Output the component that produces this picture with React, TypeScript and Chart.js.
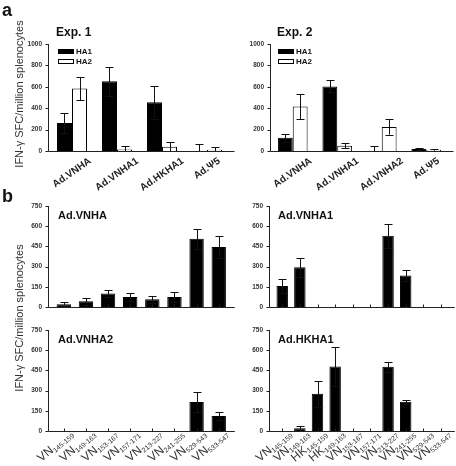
import React, { useEffect, useRef } from 'react';
import { Chart, registerables } from 'chart.js';

Chart.register(...registerables);

const W = 456;
const H = 466;
const FONT = 'Arial, "Liberation Sans", Helvetica, sans-serif';

// ---------- Panel a data ----------
const exp1Groups = ['Ad.VNHA', 'Ad.VNHA1', 'Ad.HKHA1', 'Ad.Ψ5'];
const exp2Groups = ['Ad.VNHA', 'Ad.VNHA1', 'Ad.VNHA2', 'Ad.Ψ5'];
const exp1HA1 = [262, 653, 456, 0];
const exp1HA1Err = [91, 135, 153, 62];
const exp1HA2 = [584, 15, 40, 12];
const exp1HA2Err = [110, 35, 41, 22];
const exp2HA1 = [125, 603, 0, 19];
const exp2HA1Err = [38, 56, 50, 12];
const exp2HA2 = [416, 50, 225, 12];
const exp2HA2Err = [118, 22, 72, 10];
const aTicks = [0, 200, 400, 600, 800, 1000];

// ---------- Panel b data ----------
const vnPeptides = ['VN145-159', 'VN149-163', 'VN153-167', 'VN157-171', 'VN213-227', 'VN241-255', 'VN529-543', 'VN533-547'];
const hkPeptides = ['VN145-159', 'VN149-163', 'HK145-159', 'HK149-163', 'VN153-167', 'VN157-171', 'VN213-227', 'VN241-255', 'VN529-543', 'VN533-547'];
const vnhaSFC = [20, 42, 101, 74, 57, 74, 507, 446];
const vnhaErr = [15, 27, 28, 27, 25, 37, 75, 81];
const vnha1SFC = [156, 295, 0, 0, 0, 0, 530, 233, 0, 0];
const vnha1Err = [49, 71, 0, 0, 0, 0, 89, 39, 0, 0];
const vnha2SFC = [0, 0, 0, 0, 0, 0, 216, 112];
const vnha2Err = [0, 0, 0, 0, 0, 0, 77, 32];
const hkha1SFC = [0, 20, 276, 479, 0, 0, 477, 218, 0, 0];
const hkha1Err = [0, 20, 96, 144, 0, 0, 39, 15, 0, 0];
const bTicks = [0, 150, 300, 450, 600, 750];

const yTitle = 'IFN-γ SFC/million splenocytes';

type Series = { label: string; data: number[]; err: number[]; color: string };
type PanelCfg = {
  key: string;
  categories: string[];
  series: Series[];
  ticks: number[];
  axisX: number;
  catLeft: number;
  catRight: number;
  yTop: number;
  yBottom: number;
  catPct: number;
  title: string;
  titleX: number;
  titleY: number;
  titleSize: number;
  legend?: { x: number; y: number };
  labels: 'rot' | 'sub' | 'none';
  xTicks: boolean;
  global?: boolean;
};

const panels: PanelCfg[] = [
  {
    key: 'a1', categories: exp1Groups,
    series: [
      { label: 'HA1', data: exp1HA1, err: exp1HA1Err, color: '#000000' },
      { label: 'HA2', data: exp1HA2, err: exp1HA2Err, color: '#ffffff' },
    ],
    ticks: aTicks, axisX: 48, catLeft: 49.5, catRight: 229.5, yTop: 44, yBottom: 151, catPct: 0.667,
    title: 'Exp. 1', titleX: 56, titleY: 36, titleSize: 12,
    legend: { x: 58, y: 49 }, labels: 'rot', xTicks: false, global: true,
  },
  {
    key: 'a2', categories: exp2Groups,
    series: [
      { label: 'HA1', data: exp2HA1, err: exp2HA1Err, color: '#000000' },
      { label: 'HA2', data: exp2HA2, err: exp2HA2Err, color: '#ffffff' },
    ],
    ticks: aTicks, axisX: 270, catLeft: 270.5, catRight: 448.5, yTop: 44, yBottom: 151, catPct: 0.667,
    title: 'Exp. 2', titleX: 277, titleY: 36, titleSize: 12,
    legend: { x: 278, y: 49 }, labels: 'rot', xTicks: false,
  },
  {
    key: 'b1', categories: vnPeptides,
    series: [{ label: 'Ad.VNHA', data: vnhaSFC, err: vnhaErr, color: '#000000' }],
    ticks: bTicks, axisX: 48, catLeft: 52.7, catRight: 229.8, yTop: 206, yBottom: 307, catPct: 0.65,
    title: 'Ad.VNHA', titleX: 58, titleY: 219, titleSize: 11,
    labels: 'none', xTicks: true,
  },
  {
    key: 'b2', categories: hkPeptides,
    series: [{ label: 'Ad.VNHA1', data: vnha1SFC, err: vnha1Err, color: '#000000' }],
    ticks: bTicks, axisX: 269, catLeft: 273.4, catRight: 449.8, yTop: 206, yBottom: 307, catPct: 0.65,
    title: 'Ad.VNHA1', titleX: 278, titleY: 219, titleSize: 11,
    labels: 'none', xTicks: true,
  },
  {
    key: 'b3', categories: vnPeptides,
    series: [{ label: 'Ad.VNHA2', data: vnha2SFC, err: vnha2Err, color: '#000000' }],
    ticks: bTicks, axisX: 48, catLeft: 52.7, catRight: 229.8, yTop: 330, yBottom: 431, catPct: 0.65,
    title: 'Ad.VNHA2', titleX: 58, titleY: 343, titleSize: 11,
    labels: 'sub', xTicks: true,
  },
  {
    key: 'b4', categories: hkPeptides,
    series: [{ label: 'Ad.HKHA1', data: hkha1SFC, err: hkha1Err, color: '#000000' }],
    ticks: bTicks, axisX: 269, catLeft: 273.4, catRight: 449.8, yTop: 330, yBottom: 431, catPct: 0.65,
    title: 'Ad.HKHA1', titleX: 278, titleY: 343, titleSize: 11,
    labels: 'sub', xTicks: true,
  },
];

function makeDecor(cfg: PanelCfg) {
  return {
    id: 'decor_' + cfg.key,
    afterDatasetsDraw(chart: any) {
      const ctx: CanvasRenderingContext2D = chart.ctx;
      const xs = chart.scales.x;
      const ys = chart.scales.y;
      const y0 = ys.getPixelForValue(0);
      const yMaxPx = ys.getPixelForValue(cfg.ticks[cfg.ticks.length - 1]);
      ctx.save();
      // error bars
      ctx.strokeStyle = '#111';
      ctx.lineWidth = 1;
      cfg.series.forEach((s, di) => {
        const meta = chart.getDatasetMeta(di);
        meta.data.forEach((bar: any, i: number) => {
          const v = s.data[i];
          const e = s.err[i];
          if (!e) return;
          const x = Math.round(bar.x) + 0.5;
          const top = Math.round(ys.getPixelForValue(v + e)) + 0.5;
          const lowV = v - e;
          const bot = ys.getPixelForValue(Math.max(0, lowV));
          ctx.beginPath();
          ctx.moveTo(x, top);
          ctx.lineTo(x, bot);
          ctx.moveTo(x - 4, top);
          ctx.lineTo(x + 4, top);
          if (lowV > 0) {
            const b = Math.round(bot) + 0.5;
            ctx.moveTo(x - 4, b);
            ctx.lineTo(x + 4, b);
          }
          ctx.stroke();
        });
      });
      // axes
      ctx.strokeStyle = '#222';
      ctx.beginPath();
      const ax = Math.round(cfg.axisX) + 0.5;
      const ay = Math.round(y0) + 0.5;
      ctx.moveTo(ax, Math.round(yMaxPx));
      ctx.lineTo(ax, ay);
      ctx.moveTo(ax, ay);
      ctx.lineTo(cfg.catRight + 5, ay);
      cfg.ticks.forEach((t) => {
        const ty = Math.round(ys.getPixelForValue(t)) + 0.5;
        ctx.moveTo(ax - 3, ty);
        ctx.lineTo(ax, ty);
      });
      if (cfg.xTicks) {
        cfg.categories.forEach((_, i) => {
          const tx = Math.round(xs.getPixelForValue(i)) + 0.5;
          ctx.moveTo(tx, ay - 3);
          ctx.lineTo(tx, ay);
        });
      }
      ctx.stroke();

      // y tick labels (from the y scale)
      ctx.fillStyle = '#333';
      ctx.font = `bold 6.5px ${FONT}`;
      ctx.textAlign = 'right';
      ctx.textBaseline = 'middle';
      cfg.ticks.forEach((t) => {
        ctx.fillText(String(t), cfg.axisX - 6, ys.getPixelForValue(t));
      });

      // category labels
      if (cfg.labels === 'rot') {
        const th = (35 * Math.PI) / 180;
        ctx.font = `bold 10px ${FONT}`;
        ctx.fillStyle = '#222';
        cfg.categories.forEach((c, i) => {
          const cx = xs.getPixelForValue(i);
          const L = ctx.measureText(c).width;
          ctx.save();
          ctx.translate(cx + (L / 2) * Math.cos(th), y0 + 9);
          ctx.rotate(-th);
          ctx.textAlign = 'right';
          ctx.textBaseline = 'middle';
          ctx.fillText(c, 0, 0);
          ctx.restore();
        });
      } else if (cfg.labels === 'sub') {
        const th = (40 * Math.PI) / 180;
        ctx.fillStyle = '#333';
        cfg.categories.forEach((c, i) => {
          const m = /^([A-Z]+)(.*)$/.exec(c);
          const main = m ? m[1] : c;
          const sub = m ? m[2] : '';
          const cx = xs.getPixelForValue(i);
          ctx.font = `12px ${FONT}`;
          const w1 = ctx.measureText(main).width;
          ctx.font = `7px ${FONT}`;
          const w2 = ctx.measureText(sub).width;
          ctx.save();
          ctx.translate(cx + 10, y0 + 4);
          ctx.rotate(-th);
          ctx.textAlign = 'left';
          ctx.textBaseline = 'alphabetic';
          ctx.font = `12px ${FONT}`;
          ctx.fillText(main, -(w1 + w2), 0);
          ctx.font = `7px ${FONT}`;
          ctx.fillText(sub, -w2, 2);
          ctx.restore();
        });
      }

      // panel title
      ctx.fillStyle = '#111';
      ctx.font = `bold ${cfg.titleSize}px ${FONT}`;
      ctx.textAlign = 'left';
      ctx.textBaseline = 'alphabetic';
      ctx.fillText(cfg.title, cfg.titleX, cfg.titleY);

      // legend
      if (cfg.legend) {
        const { x, y } = cfg.legend;
        cfg.series.forEach((s, k) => {
          const by = y + k * 10;
          ctx.fillStyle = s.color;
          ctx.fillRect(x, by, 16, 5);
          ctx.strokeStyle = '#000';
          ctx.strokeRect(x + 0.5, by + 0.5, 15, 4);
          ctx.fillStyle = '#111';
          ctx.font = `bold 8px ${FONT}`;
          ctx.textBaseline = 'middle';
          ctx.fillText(s.label, x + 18, by + 3);
        });
      }

      // global texts
      if (cfg.global) {
        ctx.fillStyle = '#111';
        ctx.font = `bold 18px ${FONT}`;
        ctx.textAlign = 'left';
        ctx.textBaseline = 'alphabetic';
        ctx.fillText('a', 2, 16);
        ctx.fillText('b', 2, 202);
        ctx.fillStyle = '#333';
        ctx.font = `11px ${FONT}`;
        ctx.textAlign = 'center';
        ctx.textBaseline = 'middle';
        [94, 318].forEach((cy) => {
          ctx.save();
          ctx.translate(19.5, cy);
          ctx.rotate(-Math.PI / 2);
          ctx.fillText(yTitle, 0, 0);
          ctx.restore();
        });
      }
      ctx.restore();
    },
  };
}

const Y_W = 30;

function Panel({ cfg }: { cfg: PanelCfg }) {
  const ref = useRef<HTMLCanvasElement>(null);
  useEffect(() => {
    const canvas = ref.current;
    if (!canvas) return;
    const yMax = cfg.ticks[cfg.ticks.length - 1];
    const chart = new Chart(canvas, {
      type: 'bar',
      data: {
        labels: cfg.categories,
        datasets: cfg.series.map((s) => ({
          label: s.label,
          data: s.data,
          backgroundColor: s.color,
          borderColor: '#000000',
          borderWidth: 1,
          categoryPercentage: cfg.catPct,
          barPercentage: 1,
        })),
      },
      options: {
        responsive: false,
        maintainAspectRatio: false,
        animation: false,
        events: [],
        layout: {
          padding: {
            left: cfg.catLeft - Y_W,
            right: W - cfg.catRight,
            top: cfg.yTop,
            bottom: H - cfg.yBottom,
          },
        },
        plugins: {
          legend: { display: false },
          tooltip: { enabled: false },
          title: { display: false },
        },
        scales: {
          x: {
            type: 'category',
            grid: { display: false },
            border: { display: false },
            ticks: { display: false },
            afterFit: (s: any) => {
              s.height = 0;
            },
          },
          y: {
            min: 0,
            max: yMax,
            grid: { display: false },
            border: { display: false },
            ticks: {
              display: false,
              stepSize: cfg.ticks[1] - cfg.ticks[0],
            },
            afterFit: (s: any) => {
              s.width = Y_W;
            },
          },
        },
      },
      plugins: [makeDecor(cfg)],
    } as any);
    return () => chart.destroy();
  }, [cfg]);
  return (
    <canvas
      ref={ref}
      width={W}
      height={H}
      style={{ position: 'absolute', left: 0, top: 0, width: W, height: H }}
    />
  );
}

export default function App() {
  return (
    <div
      style={{
        position: 'absolute',
        left: 0,
        top: 0,
        width: W,
        height: H,
        background: '#ffffff',
        overflow: 'hidden',
      }}
    >
      {panels.map((p) => (
        <Panel key={p.key} cfg={p} />
      ))}
    </div>
  );
}
